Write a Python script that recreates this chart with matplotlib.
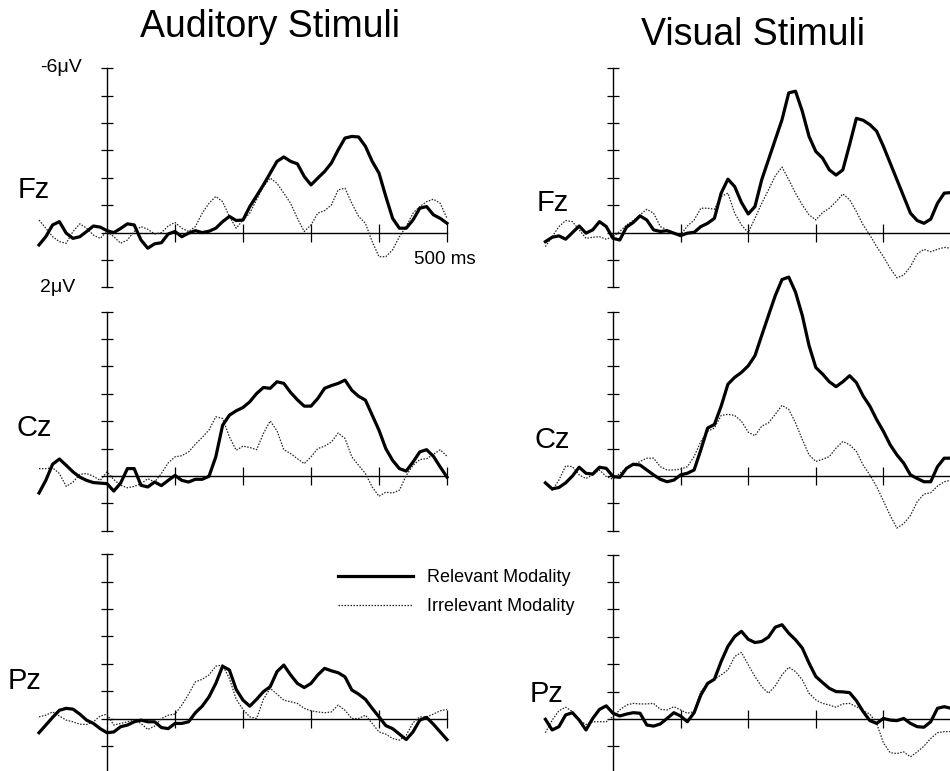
"""
ERP grand averages: relevant vs irrelevant modality
for auditory and visual stimuli at Fz, Cz and Pz.
"""

import numpy as np
import matplotlib
matplotlib.use('Agg')
import matplotlib.pyplot as plt

plt.rcParams['font.family'] = ['Liberation Sans', 'DejaVu Sans']

# ─────────────────────────────────────────────────────────────────────
# Data (μV, negative plotted upwards), sampled every 10 ms
# ─────────────────────────────────────────────────────────────────────

TIME_MS = np.arange(-100, 501, 10)

ELECTRODES = ['Fz', 'Cz', 'Pz']
COLUMN_TITLES = ['Auditory Stimuli', 'Visual Stimuli']
LEGEND_LABELS = ['Relevant Modality', 'Irrelevant Modality']

AUD_FZ_REL = [0.45, 0.15, -0.28, -0.40, 0.02, 0.21, 0.15, -0.04, -0.24, -0.20,
              -0.07, 0.00, -0.15, -0.32, -0.28, 0.27, 0.57, 0.41, 0.37, 0.05,
              -0.04, 0.15, 0.02, -0.07, 0.00, -0.05, -0.16, -0.40, -0.59, -0.44,
              -0.46, -0.95, -1.34, -1.74, -2.17, -2.60, -2.76, -2.60, -2.51, -2.05,
              -1.74, -1.99, -2.23, -2.54, -3.02, -3.45, -3.51, -3.49, -3.15, -2.60,
              -2.17, -1.32, -0.52, -0.16, -0.16, -0.46, -0.89, -0.95, -0.65, -0.52,
              -0.34]
AUD_FZ_IRR = [-0.46, -0.16, 0.15, 0.33, 0.39, -0.04, -0.32, -0.16, 0.09, 0.21,
              -0.04, 0.15, 0.39, 0.27, -0.04, -0.22, -0.12, 0.05, 0.00, -0.24,
              -0.37, -0.16, -0.04, -0.22, -0.71, -1.07, -1.32, -1.13, -0.59, -0.16,
              -0.46, -0.71, -1.20, -1.68, -1.99, -1.80, -1.44, -1.07, -0.52, -0.04,
              -0.28, -0.71, -0.80, -1.01, -1.56, -1.62, -1.07, -0.59, -0.34, 0.33,
              0.88, 0.88, 0.63, 0.15, -0.22, -0.71, -0.95, -1.13, -1.22, -1.07,
              -0.52]
AUD_CZ_REL = [0.62, 0.16, -0.43, -0.62, -0.39, -0.15, 0.04, 0.16, 0.24, 0.26,
              0.28, 0.55, 0.26, -0.27, -0.27, 0.34, 0.40, 0.22, 0.35, 0.16,
              -0.02, 0.16, 0.22, 0.12, 0.12, 0.01, -0.70, -1.85, -2.22, -2.38,
              -2.50, -2.71, -3.01, -3.23, -3.20, -3.44, -3.38, -3.05, -2.78, -2.55,
              -2.55, -2.83, -3.20, -3.30, -3.38, -3.50, -3.13, -2.91, -2.77, -2.22,
              -1.67, -1.00, -0.57, -0.27, -0.18, -0.51, -0.88, -0.96, -0.72, -0.33,
              0.04]
AUD_CZ_IRR = [-0.27, -0.27, -0.30, -0.09, 0.38, 0.22, -0.06, -0.09, 0.01, 0.16,
              -0.15, 0.13, 0.34, 0.43, 0.38, 0.28, 0.10, 0.22, -0.09, -0.48,
              -0.70, -0.74, -0.88, -1.16, -1.41, -1.68, -2.16, -2.10, -1.43, -0.94,
              -1.09, -1.04, -0.96, -1.55, -2.01, -1.65, -0.96, -0.82, -0.63, -0.45,
              -0.70, -1.00, -1.09, -1.24, -1.57, -1.37, -0.70, -0.39, -0.09, 0.40,
              0.74, 0.59, 0.62, 0.52, -0.02, -0.39, -0.60, -0.63, -0.79, -0.96,
              -0.72]
AUD_PZ_REL = [0.52, 0.24, -0.04, -0.30, -0.37, -0.34, -0.16, 0.06, 0.18, 0.37,
              0.52, 0.49, 0.30, 0.24, 0.12, 0.06, 0.12, 0.12, 0.33, 0.37,
              0.18, 0.18, 0.12, -0.21, -0.45, -0.79, -1.28, -1.91, -1.77, -1.06,
              -0.67, -0.45, -0.70, -0.98, -1.16, -1.71, -1.95, -1.59, -1.28, -1.13,
              -1.28, -1.59, -1.83, -1.74, -1.67, -1.52, -1.04, -0.89, -0.70, -0.37,
              -0.06, 0.26, 0.37, 0.57, 0.77, 0.49, 0.06, -0.04, 0.21, 0.49,
              0.77]
AUD_PZ_IRR = [-0.06, -0.12, -0.24, -0.09, 0.06, 0.12, 0.21, 0.22, 0.12, -0.09,
              -0.16, 0.24, 0.18, 0.12, 0.06, 0.18, 0.40, 0.28, 0.00, -0.12,
              -0.16, -0.49, -0.89, -1.34, -1.43, -1.59, -1.91, -1.95, -1.46, -0.70,
              -0.33, -0.06, 0.00, -0.70, -1.10, -0.89, -0.67, -0.61, -0.55, -0.37,
              -0.28, -0.24, -0.21, -0.24, -0.49, -0.30, 0.00, 0.00, -0.12, 0.18,
              0.49, 0.57, 0.73, 0.79, 0.61, 0.16, -0.06, -0.06, -0.16, -0.28,
              -0.33]

VIS_FZ_REL = [0.33, 0.17, 0.12, 0.24, 0.00, -0.24, 0.02, -0.10, -0.40, -0.22,
              0.21, 0.27, -0.20, -0.37, -0.61, -0.46, -0.10, -0.04, -0.07, 0.02,
              0.11, 0.02, -0.01, -0.22, -0.34, -0.52, -1.44, -1.95, -1.68, -1.10,
              -0.68, -0.95, -1.93, -2.66, -3.39, -4.12, -5.10, -5.16, -4.43, -3.51,
              -2.96, -2.72, -2.29, -2.10, -2.29, -3.21, -4.17, -4.10, -3.94, -3.70,
              -3.15, -2.54, -1.93, -1.32, -0.71, -0.44, -0.34, -0.49, -1.07, -1.44,
              -1.46]
VIS_FZ_IRR = [0.51, 0.15, -0.22, -0.44, -0.40, -0.10, 0.21, 0.17, 0.15, 0.24,
              0.15, -0.04, -0.28, -0.44, -0.65, -0.85, -0.71, -0.22, -0.10, 0.02,
              0.09, -0.24, -0.46, -0.89, -0.89, -0.85, -1.32, -1.44, -0.71, -0.28,
              0.00, -0.52, -1.07, -1.56, -2.07, -2.39, -1.93, -1.44, -1.01, -0.65,
              -0.46, -0.73, -0.89, -1.13, -1.41, -1.20, -0.77, -0.28, 0.09, 0.51,
              0.88, 1.30, 1.65, 1.55, 1.24, 0.78, 0.61, 0.70, 0.61, 0.54,
              0.57]
VIS_CZ_REL = [0.25, 0.47, 0.42, 0.25, 0.00, -0.32, -0.10, -0.07, -0.32, -0.28,
              0.02, 0.05, -0.28, -0.43, -0.40, -0.22, -0.04, 0.12, 0.21, 0.15,
              -0.04, -0.10, -0.22, -0.96, -1.75, -1.88, -2.55, -3.35, -3.60, -3.78,
              -4.02, -4.39, -5.13, -5.86, -6.58, -7.17, -7.26, -6.71, -5.86, -4.76,
              -3.96, -3.72, -3.44, -3.26, -3.44, -3.66, -3.41, -2.92, -2.55, -2.06,
              -1.63, -1.14, -0.77, -0.47, -0.04, 0.09, 0.21, 0.21, -0.34, -0.65,
              -0.65]
VIS_CZ_IRR = [0.27, 0.52, 0.15, -0.37, -0.34, -0.04, 0.09, -0.04, -0.22, 0.02,
              0.12, -0.10, -0.28, -0.40, -0.53, -0.65, -0.65, -0.34, -0.22, -0.22,
              -0.25, -0.34, -0.71, -1.26, -1.63, -1.75, -2.21, -2.25, -2.21, -2.00,
              -1.60, -1.47, -1.82, -1.94, -2.25, -2.58, -2.43, -1.94, -1.33, -0.77,
              -0.53, -0.61, -0.71, -1.02, -1.26, -1.14, -0.90, -0.40, -0.04, 0.39,
              0.91, 1.44, 1.90, 1.74, 1.44, 0.94, 0.66, 0.61, 0.37, 0.21,
              0.15]
VIS_PZ_REL = [0.01, 0.40, 0.28, -0.15, -0.23, 0.04, 0.40, -0.02, -0.35, -0.48,
              -0.21, -0.11, -0.18, -0.23, -0.21, 0.22, 0.26, 0.18, -0.02, -0.23,
              -0.11, 0.10, -0.23, -0.88, -1.30, -1.45, -2.10, -2.65, -3.01, -3.20,
              -2.91, -2.79, -2.83, -2.99, -3.35, -3.44, -3.13, -2.89, -2.59, -2.04,
              -1.55, -1.33, -1.12, -1.00, -0.99, -0.96, -0.67, -0.27, 0.06, 0.16,
              -0.02, 0.04, 0.06, -0.02, 0.16, 0.28, 0.30, 0.10, -0.39, -0.45,
              -0.39]
VIS_PZ_IRR = [0.50, 0.04, -0.30, -0.43, -0.27, 0.04, 0.20, 0.10, 0.10, 0.10,
              -0.09, -0.33, -0.51, -0.57, -0.55, -0.55, -0.57, -0.35, -0.33, -0.45,
              -0.33, -0.21, -0.27, -1.00, -1.30, -1.45, -1.61, -1.79, -2.28, -2.43,
              -1.98, -1.55, -1.18, -0.94, -1.21, -1.61, -1.89, -1.73, -1.43, -0.94,
              -0.70, -0.57, -0.51, -0.43, -0.55, -0.57, -0.45, -0.30, -0.18, 0.16,
              0.87, 1.23, 1.26, 1.20, 1.38, 1.20, 0.99, 0.71, 0.50, 0.46,
              0.46]

SERIES = [
    [(AUD_FZ_REL, AUD_FZ_IRR), (VIS_FZ_REL, VIS_FZ_IRR)],
    [(AUD_CZ_REL, AUD_CZ_IRR), (VIS_CZ_REL, VIS_CZ_IRR)],
    [(AUD_PZ_REL, AUD_PZ_IRR), (VIS_PZ_REL, VIS_PZ_IRR)],
]

# ─────────────────────────────────────────────────────────────────────
# Layout (pixels of a 950 x 771 canvas)
# ─────────────────────────────────────────────────────────────────────

W, H = 950, 771
COL_X0 = [107, 613]            # x pixel of stimulus onset
COL_PX_PER_MS = [0.680, 0.676]
ROW_BASE = [[232.6, 476.0, 718.5], [232.6, 476.0, 719.0]]
PX_PER_UV = 27.4

ELEC_POS = [[(18, 190), (16, 428), (8, 681)],
            [(537, 203), (535, 440), (530, 694)]]
TITLE_POS = [(270, 37), (753, 45)]


def fx(px):
    return px / W


def fy(py):
    return 1 - py / H


def make_panel(fig, col, row):
    x0 = COL_X0[col]
    pxms = COL_PX_PER_MS[col]
    base = ROW_BASE[col][row]
    left = x0 - 100 * pxms
    ax = fig.add_axes([fx(left), fy(base + 2 * PX_PER_UV),
                       600 * pxms / W, 8 * PX_PER_UV / H])
    ax.set_xlim(-100, 500)
    ax.set_ylim(2, -6)
    ax.patch.set_visible(False)

    for side in ['top', 'right']:
        ax.spines[side].set_visible(False)
    ax.spines['left'].set_position(('data', 0))
    ax.spines['left'].set_bounds(-6, 2)
    ax.spines['bottom'].set_position(('data', 0))
    ax.spines['bottom'].set_bounds(0, 500)
    for side in ['left', 'bottom']:
        ax.spines[side].set_linewidth(1.0)
        ax.spines[side].set_zorder(1)

    ax.set_yticks(np.arange(-6, 3))
    ax.set_xticks([100, 200, 300, 400, 500])
    ax.set_yticklabels([])
    ax.set_xticklabels([])
    ax.tick_params(axis='y', direction='inout', length=9, width=0.9)
    ax.tick_params(axis='x', direction='inout', length=13, width=0.9)

    rel, irr = SERIES[row][col]
    h_rel, = ax.plot(TIME_MS, rel, color='black', linewidth=2.3,
                     solid_joinstyle='round', clip_on=False, zorder=3,
                     label=LEGEND_LABELS[0])
    h_irr, = ax.plot(TIME_MS, irr, color='#222222', linewidth=0.9,
                     linestyle=(0, (1.2, 1.2)), clip_on=False, zorder=2,
                     label=LEGEND_LABELS[1])
    return ax, h_rel, h_irr


def main():
    fig = plt.figure(figsize=(W / 100, H / 100), dpi=100)

    handles = None
    for col in range(2):
        for row in range(3):
            ax, h_rel, h_irr = make_panel(fig, col, row)
            if col == 0 and row == 2:
                handles = [h_rel, h_irr]
            ex, ey = ELEC_POS[col][row]
            fig.text(fx(ex), fy(ey), ELECTRODES[row], fontsize=21,
                     ha='left', va='center')
        tx, ty = TITLE_POS[col]
        fig.text(fx(tx), fy(ty), COLUMN_TITLES[col], fontsize=27,
                 ha='center', va='baseline')

    # scale labels on the auditory Fz panel
    fig.text(fx(40), fy(67), '-6\u03bcV', fontsize=14,
             ha='left', va='center')
    fig.text(fx(40), fy(287), '2\u03bcV', fontsize=14,
             ha='left', va='center')
    fig.text(fx(414), fy(260), '500 ms', fontsize=13.5,
             ha='left', va='center')

    fig.legend(handles=handles, labels=LEGEND_LABELS,
               loc='center left', bbox_to_anchor=(fx(338), fy(592)),
               frameon=False, fontsize=13, handlelength=4.15,
               handletextpad=0.8, labelspacing=0.65,
               borderpad=0, borderaxespad=0)

    fig.savefig('out.png', dpi=100)
    plt.close(fig)


if __name__ == '__main__':
    main()
